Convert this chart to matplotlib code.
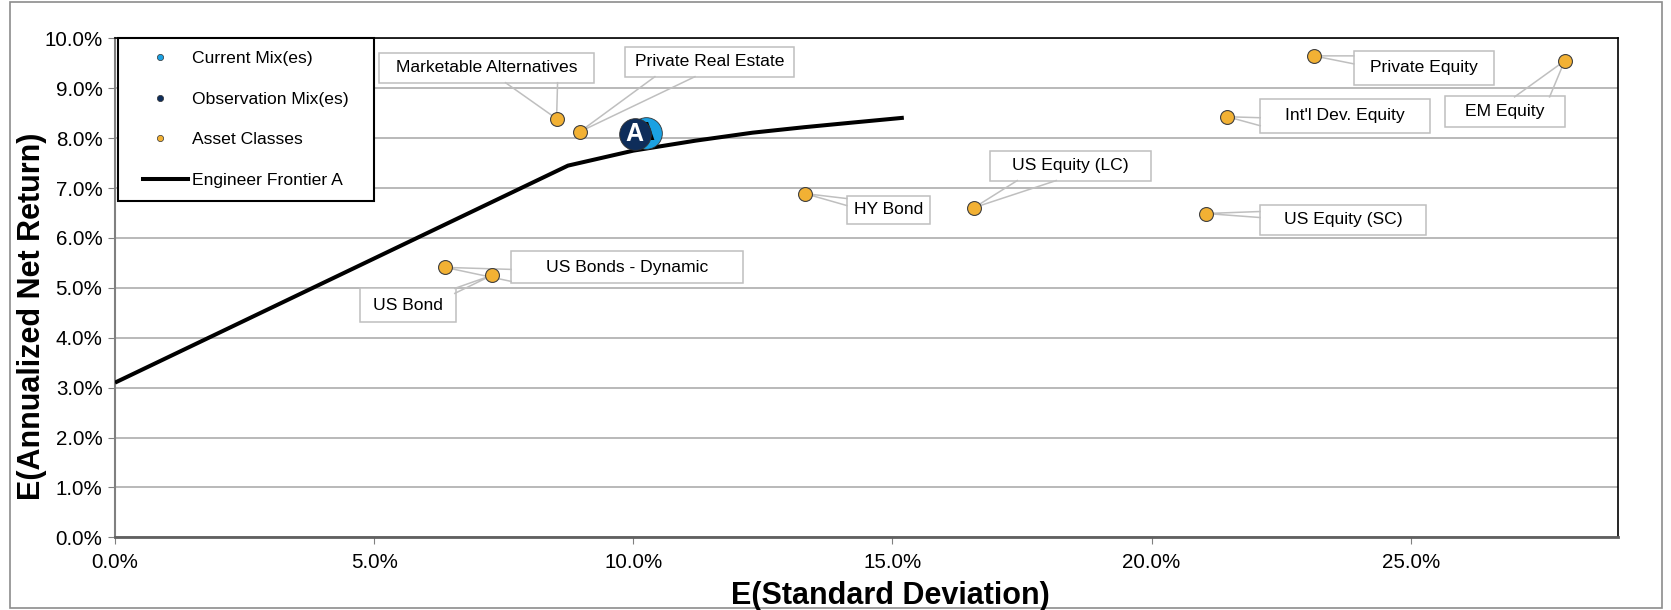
import numpy as np
import matplotlib
matplotlib.use('Agg')
import matplotlib.pyplot as plt
from matplotlib.lines import Line2D
from matplotlib.patches import Rectangle
from matplotlib.ticker import PercentFormatter
from matplotlib.transforms import ScaledTranslation

plt.rcParams['font.family'] = ['Liberation Sans', 'DejaVu Sans']

# --- data (percent) ---
asset_names = ["Marketable Alternatives", "Private Real Estate", "HY Bond", "US Equity (LC)",
               "US Equity (SC)", "Int'l Dev. Equity", "Private Equity", "EM Equity",
               "US Bonds - Dynamic", "US Bond"]
asset_sd = [8.52, 8.97, 13.31, 16.58, 21.05, 21.46, 23.13, 27.97, 6.37, 7.27]
asset_ret = [8.39, 8.13, 6.89, 6.61, 6.49, 8.43, 9.65, 9.55, 5.41, 5.25]

frontier_sd = [0.0, 8.74, 10.0, 11.2, 12.3, 13.3, 14.2, 15.22]
frontier_ret = [3.10, 7.45, 7.75, 7.95, 8.11, 8.22, 8.31, 8.41]

mix_labels = ["A"]
current_mix_sd = [10.24]
current_mix_ret = [8.10]
observation_mix_sd = [10.03]
observation_mix_ret = [8.09]

# label box layout in pixels relative to the point: dx, dy, width, height, leader anchors
label_layout = {
    "Marketable Alternatives": (-70, 51, 215, 30, [(-51, 36), (1, 36)]),
    "Private Real Estate": (130, 70, 169, 30, [(75, 55), (115, 55)]),
    "HY Bond": (84, -16, 83, 28, [(42, -5), (42, -12)]),
    "US Equity (LC)": (96, 42, 161, 30, [(43, 27), (82, 27)]),
    "US Equity (SC)": (137, -6, 166, 30, [(54, 2), (54, -4)]),
    "Int'l Dev. Equity": (118, 1, 170, 34, [(33, -1), (33, -9)]),
    "Private Equity": (110, -12, 140, 34, [(40, 0), (40, -8)]),
    "EM Equity": (-60, -51, 120, 31, [(-50, -36), (-15, -36)]),
    "US Bonds - Dynamic": (182, 0, 232, 32, [(66, -2), (66, -14)]),
    "US Bond": (-84, -30, 96, 34, [(-37, -13), (-37, -18)]),
}

ASSET_COLOR = "#F2B134"
CURRENT_COLOR = "#1BA1E2"
OBS_COLOR = "#0E2D5A"
BOX_EDGE = "#BFBFBF"

W, H = 1671, 610
fig = plt.figure(figsize=(W / 100, H / 100), dpi=100)
ax = fig.add_axes([115 / W, 1 - 537.3 / H, (1618 - 115) / W, (537.3 - 38.4) / H])

# outer chart frame
fig.patches.append(Rectangle((10 / W, 2 / H), (1662 - 10) / W, (608 - 2) / H,
                             transform=fig.transFigure, fill=False,
                             edgecolor="#8C8C8C", lw=1.2))

ax.plot(frontier_sd, frontier_ret, color="black", lw=2.9, zorder=3,
        solid_capstyle="butt", solid_joinstyle="miter")

ax.scatter(asset_sd, asset_ret, s=100, c=ASSET_COLOR, edgecolors="#404040",
           linewidths=0.8, zorder=6)

# mix markers with letter (current mix sits behind the observation mix)
ax.scatter(current_mix_sd, current_mix_ret, s=520, c=CURRENT_COLOR,
           edgecolors="#333333", linewidths=0.6, zorder=7)
for lab, x, y in zip(mix_labels, current_mix_sd, current_mix_ret):
    ax.text(x, y, lab, ha="center", va="center", fontsize=18, fontweight="bold",
            color="black", zorder=7.5)
ax.scatter(observation_mix_sd, observation_mix_ret, s=520, c=OBS_COLOR,
           edgecolors="#333333", linewidths=0.6, zorder=8)
for lab, x, y in zip(mix_labels, observation_mix_sd, observation_mix_ret):
    ax.text(x, y, lab, ha="center", va="center", fontsize=18, fontweight="bold",
            color="white", zorder=10)

# data labels with callout leaders
for name, x, y in zip(asset_names, asset_sd, asset_ret):
    dx, dy, bw, bh, anchors = label_layout[name]
    t = fig.dpi_scale_trans + ScaledTranslation(x, y, ax.transData)
    ax.add_patch(Rectangle(((dx - bw / 2) / 100, (dy - bh / 2) / 100), bw / 100, bh / 100,
                           transform=t, facecolor="white", edgecolor=BOX_EDGE,
                           lw=1.1, zorder=4))
    (a1x, a1y), (a2x, a2y) = anchors
    ax.plot([a1x / 100, 0, a2x / 100], [a1y / 100, 0, a2y / 100], transform=t,
            color=BOX_EDGE, lw=1.1, zorder=5)
    ax.text(dx / 100, dy / 100, name, transform=t, ha="center", va="center",
            fontsize=12.6, zorder=5)

ax.set_xlim(0, 29)
ax.set_ylim(0, 10)
ax.set_xticks(np.arange(0, 26, 5))
ax.set_yticks(np.arange(0, 11, 1))
ax.xaxis.set_major_formatter(PercentFormatter(xmax=100, decimals=1))
ax.yaxis.set_major_formatter(PercentFormatter(xmax=100, decimals=1))
ax.tick_params(axis="both", labelsize=14.8, color="#808080", length=5, direction="out")
ax.tick_params(axis="x", pad=6)
ax.tick_params(axis="y", pad=4)

ax.yaxis.grid(True, color="#A6A6A6", lw=1.1)
ax.set_axisbelow(True)

for side in ["top", "right"]:
    ax.spines[side].set_color("black")
    ax.spines[side].set_linewidth(1.2)
ax.spines["left"].set_color("#808080")
ax.spines["left"].set_linewidth(1.5)
ax.spines["bottom"].set_color("#606060")
ax.spines["bottom"].set_linewidth(2)

handles = [
    Line2D([], [], marker="o", ls="none", ms=4.5, mfc=CURRENT_COLOR, mec="#333333", mew=0.5),
    Line2D([], [], marker="o", ls="none", ms=4.5, mfc=OBS_COLOR, mec="#333333", mew=0.5),
    Line2D([], [], marker="o", ls="none", ms=4.5, mfc=ASSET_COLOR, mec="#333333", mew=0.5),
    Line2D([], [], color="black", lw=2.9),
]
labels = ["Current Mix(es)", "Observation Mix(es)", "Asset Classes", "Engineer Frontier A"]
leg = ax.legend(handles, labels, loc="upper left", bbox_to_anchor=(0.002, 0.675, 0.170, 0.325),
                mode="expand", fontsize=12.6, handlelength=3.4, handletextpad=0.1,
                labelspacing=1.45, borderpad=0.72, borderaxespad=0, fancybox=False,
                framealpha=1, edgecolor="black")
leg.get_frame().set_linewidth(1.5)
leg.set_zorder(12)
# shorter frontier sample line, drawn towards the text as in the original
fl = leg.get_lines()[3]
xd = np.asarray(fl.get_xdata(), dtype=float)
yd = np.asarray(fl.get_ydata(), dtype=float)
lo, hi = xd.min(), xd.max()
fl.set_data([lo + (hi - lo) * 0.2, lo + (hi - lo) * 0.97], [yd[0], yd[0]])

fig.text(890 / W, 1 - 604 / H, "E(Standard Deviation)", ha="center", va="baseline",
         fontsize=22, fontweight="bold")
fig.text(32 / W, 1 - 316 / H, "E(Annualized Net Return)", ha="center", va="center",
         rotation=90, fontsize=22, fontweight="bold")

fig.savefig("out.png", dpi=100)
plt.close(fig)
